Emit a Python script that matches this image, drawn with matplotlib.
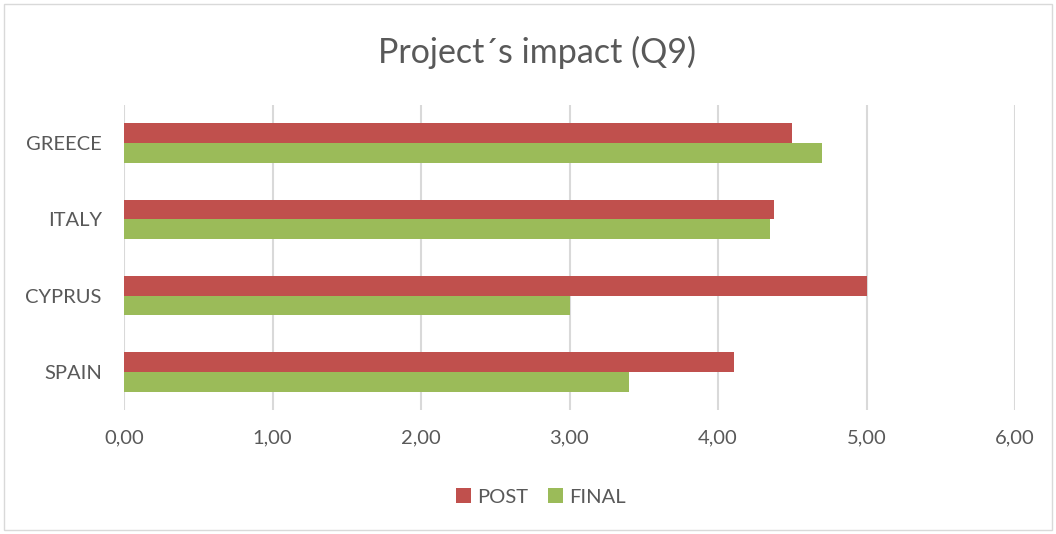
import matplotlib
matplotlib.use("Agg")
import matplotlib.pyplot as plt
import numpy as np
from matplotlib.patches import Rectangle

categories = ["GREECE", "ITALY", "CYPRUS", "SPAIN"]
post = [4.50, 4.38, 5.00, 4.11]
final = [4.70, 4.35, 3.00, 3.40]
series_names = ["POST", "FINAL"]
colors = ["#C0504D", "#9BBB59"]
xticks = [0, 1, 2, 3, 4, 5, 6]
xtick_labels = ["0,00", "1,00", "2,00", "3,00", "4,00", "5,00", "6,00"]

plt.rcParams['font.family'] = ['Lato', 'DejaVu Sans']
txt = "#595959"

fig = plt.figure(figsize=(10.56, 5.34), dpi=100)
ax = fig.add_axes([124/1056, 1-410/534, (1015-124)/1056, (410-105)/534])

y = np.arange(len(categories))
h = 0.26
ax.barh(y - h/2, post, height=h, color=colors[0], label=series_names[0], zorder=3)
ax.barh(y + h/2, final, height=h, color=colors[1], label=series_names[1], zorder=3)
ax.set_ylim(len(categories) - 0.5, -0.5)
ax.set_xlim(0, 6)
ax.set_yticks(y)
ax.set_yticklabels(categories, fontsize=14.5, color=txt)
ax.set_xticks(xticks)
ax.set_xticklabels(xtick_labels, fontsize=14.5, color=txt)
ax.tick_params(axis='both', length=0)
ax.tick_params(axis='x', pad=14)
ax.tick_params(axis='y', pad=16)
ax.grid(axis='x', color="#D9D9D9", linewidth=1.5, zorder=0)
for s in ax.spines.values():
    s.set_visible(False)

fig.text(537/1056, 1-52/534, "Project\u00b4s impact (Q9)", ha='center', va='center',
         fontsize=24.5, color=txt)

leg = fig.legend(loc='center', bbox_to_anchor=(541/1056, 1-497/534), ncol=2, frameon=False,
                 fontsize=14.5, handlelength=0.75, handleheight=0.75, handletextpad=0.3,
                 columnspacing=1.0)
for t in leg.get_texts():
    t.set_color(txt)

fig.patches.append(Rectangle((4/1056, 4/534), 1048/1056, 526/534, transform=fig.transFigure,
                             fill=False, edgecolor="#D9D9D9", linewidth=1))

fig.savefig("out.png", dpi=100, facecolor="white")
